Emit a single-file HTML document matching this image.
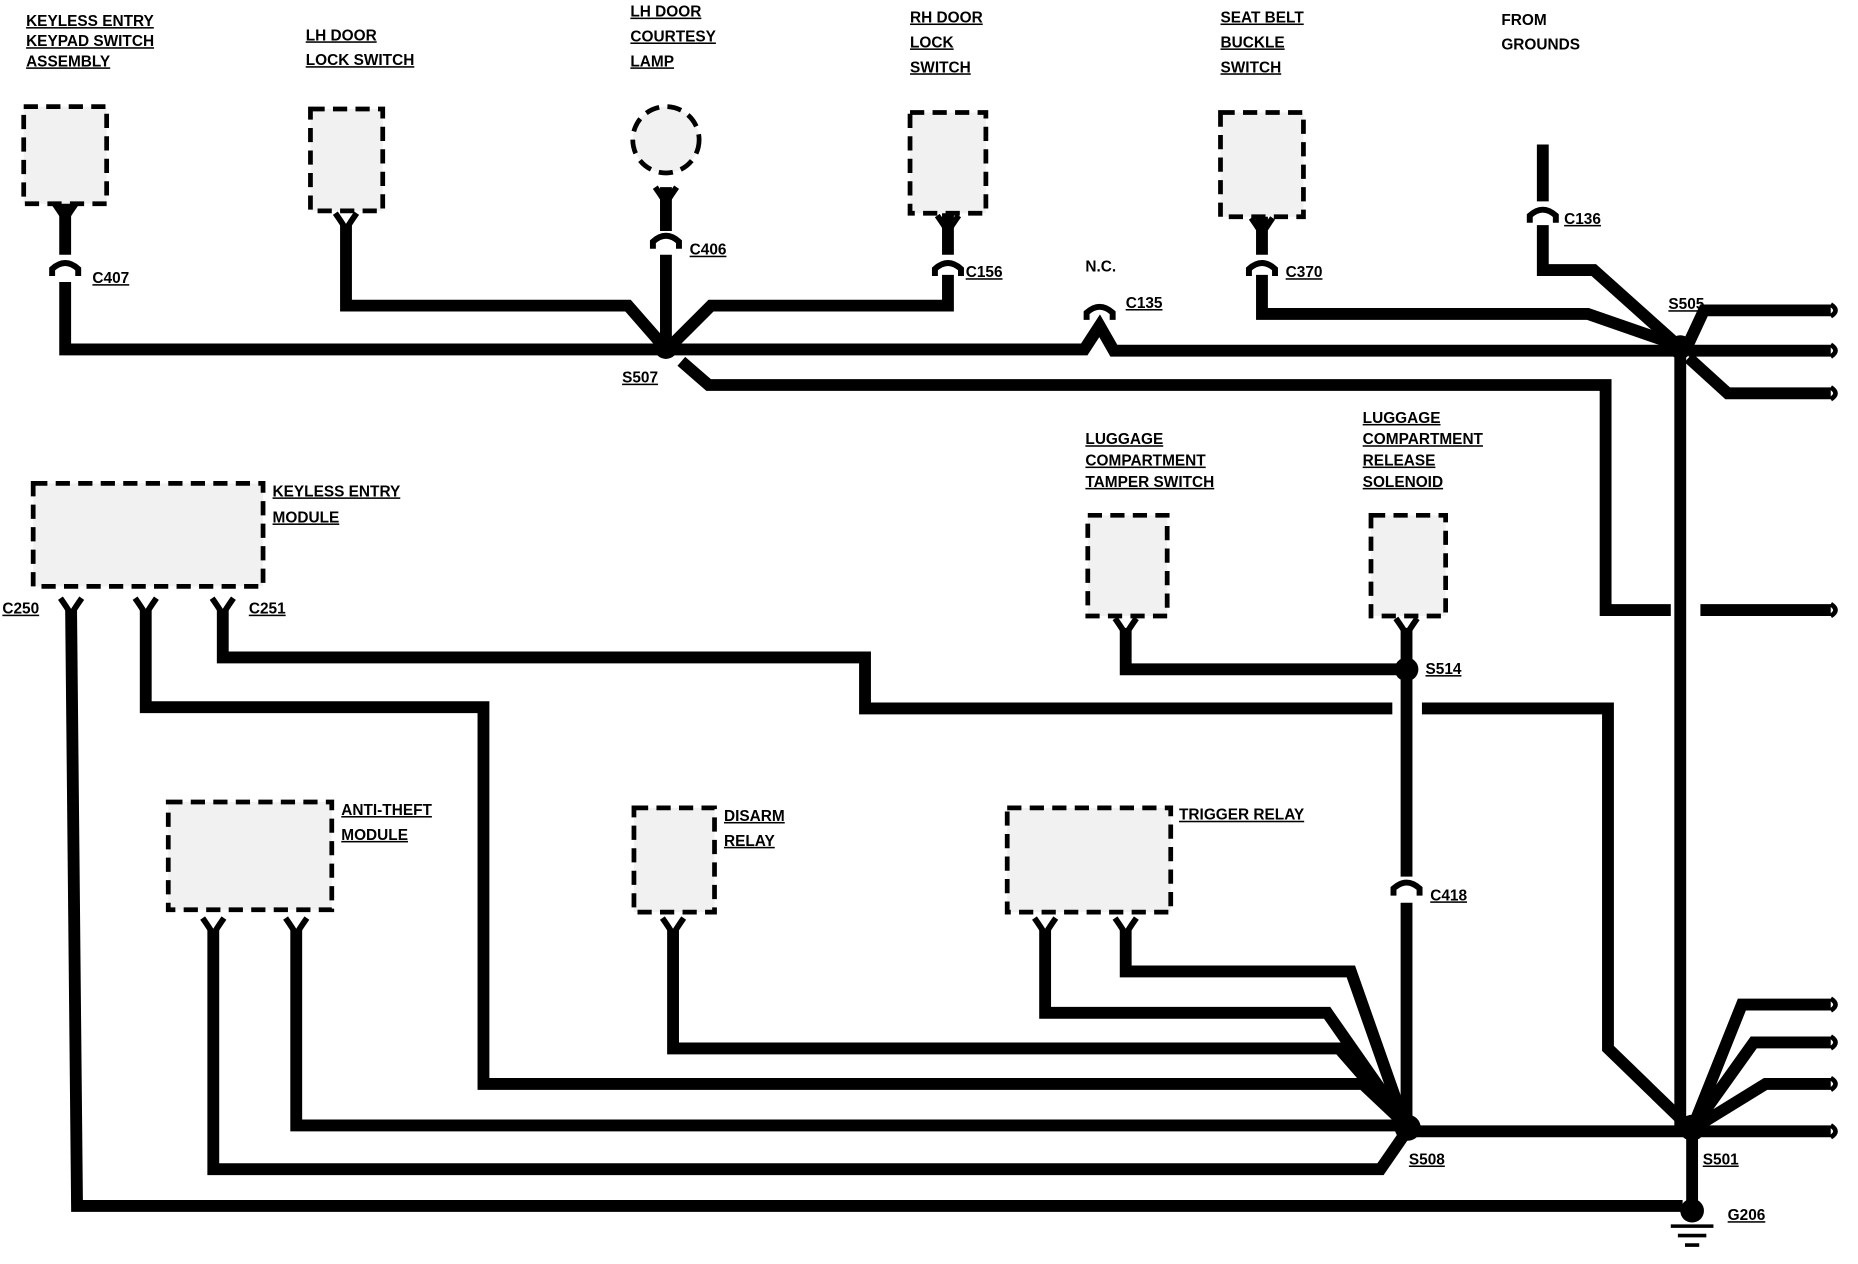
<!DOCTYPE html>
<html><head><meta charset="utf-8"><style>
html,body{margin:0;padding:0;background:#fff;}
svg{display:block}
text{font-family:"Liberation Sans",sans-serif;font-size:13px;font-weight:bold;fill:#000;text-decoration:underline}
.w{fill:none;stroke:#000;stroke-width:10;stroke-linejoin:miter}
.b{fill:#f1f1f1;stroke:#000;stroke-width:4;stroke-dasharray:12 7}
.f{fill:none;stroke:#000;stroke-width:5}
</style></head><body>
<svg width="1858" height="1264" viewBox="0 0 1568 1067" preserveAspectRatio="none">
<defs>
<g id="fork"><path class="f" d="M-9,-10 Q-2,0 0,4 Q2,0 9,-10"/></g>
<g id="conn"><path d="M-11,8 L-11,2 Q0,-8 11,2 L11,8" fill="none" stroke="#000" stroke-width="5"/></g>
</defs>
<!-- boxes -->
<rect class="b" x="20" y="90" width="70" height="82"/>
<rect class="b" x="262" y="92" width="61" height="86"/>
<circle class="b" cx="562" cy="118" r="28"/>
<rect class="b" x="768" y="95" width="64" height="85"/>
<rect class="b" x="1030" y="95" width="70" height="88"/>
<rect class="b" x="28" y="408" width="194" height="87"/>
<rect class="b" x="918" y="435" width="67" height="85"/>
<rect class="b" x="1157" y="435" width="63" height="85"/>
<rect class="b" x="142" y="677" width="138" height="91"/>
<rect class="b" x="535" y="682" width="68" height="88"/>
<rect class="b" x="850" y="682" width="138" height="88"/>
<!-- wires top -->
<path class="w" d="M55,172 V215 M55,238 V295 H915 L928,275 L940,296 H1412"/>
<path class="w" d="M292,190 V258 H530 L558,290"/>
<path class="w" d="M562,158 V195 M562,215 V290"/>
<path class="w" d="M800,180 V215 M800,232 V258 H600 L568,290"/>
<path class="w" d="M575,305 L598,325 H1355 V515 H1410 M1435,515 H1545"/>
<path class="w" d="M1065,183 V215 M1065,232 V265 H1340 L1412,290"/>
<path class="w" d="M1302,122 V170 M1302,190 V228 H1345 L1412,288"/>
<path class="w" d="M1425,290 L1438,262 H1545 M1425,296 H1545 M1425,302 L1458,332 H1545"/>
<path class="w" d="M1418,293 V952"/>
<!-- middle -->
<path class="w" d="M60,515 L65,1018 H1420"/>
<path class="w" d="M123,515 V597 H408 V915 H1150 L1185,948"/>
<path class="w" d="M188,515 V555 H730 V598 H1175 M1200,598 H1357 V885 L1422,948"/>
<path class="w" d="M950,530 V565 H1187"/>
<path class="w" d="M1187,530 V740 M1187,762 V952"/>
<path class="w" d="M180,785 V987 H1165 L1185,958"/>
<path class="w" d="M250,785 V950 H1180"/>
<path class="w" d="M568,785 V885 H1130 L1185,948"/>
<path class="w" d="M882,785 V855 H1120 L1185,948"/>
<path class="w" d="M950,785 V820 H1140 L1185,948"/>
<path class="w" d="M1188,955 H1425"/>
<path class="w" d="M1430,948 L1470,848 H1545 M1430,950 L1480,880 H1545 M1430,952 L1490,915 H1545 M1430,955 H1545"/>
<path class="w" d="M1428,952 V1025"/>
<!-- squiggle ends -->
<g fill="none" stroke="#000" stroke-width="4">
<path d="M1545,257 q8,5 0,10 M1545,291 q8,5 0,10 M1545,327 q8,5 0,10 M1545,510 q8,5 0,10 M1545,843 q8,5 0,10 M1545,875 q8,5 0,10 M1545,910 q8,5 0,10 M1545,950 q8,5 0,10"/>
</g>
<!-- ground -->
<circle cx="1428" cy="1022" r="10"/>
<path d="M1410,1035 H1446 M1416,1043 H1440 M1422,1051 H1434" stroke="#000" stroke-width="3"/>
<!-- splices -->
<circle cx="562" cy="293" r="10"/><circle cx="1418" cy="293" r="10"/>
<circle cx="1187" cy="565" r="10"/><circle cx="1188" cy="952" r="11"/><circle cx="1428" cy="952" r="11"/>
<!-- forks -->
<use href="#fork" x="55" y="182"/><use href="#fork" x="292" y="190"/><use href="#fork" x="562" y="168"/><use href="#fork" x="800" y="192"/><use href="#fork" x="1065" y="194"/>
<use href="#fork" x="60" y="515"/><use href="#fork" x="123" y="515"/><use href="#fork" x="188" y="515"/>
<use href="#fork" x="950" y="532"/><use href="#fork" x="1187" y="532"/>
<use href="#fork" x="180" y="785"/><use href="#fork" x="250" y="785"/><use href="#fork" x="568" y="785"/><use href="#fork" x="882" y="785"/><use href="#fork" x="950" y="785"/>
<!-- connectors -->
<use href="#conn" x="55" y="225"/><use href="#conn" x="562" y="202"/><use href="#conn" x="800" y="225"/><use href="#conn" x="928" y="262"/><use href="#conn" x="1065" y="225"/><use href="#conn" x="1302" y="180"/><use href="#conn" x="1187" y="748"/>
<!-- labels -->
<text x="22" y="22">KEYLESS ENTRY</text><text x="22" y="39">KEYPAD SWITCH</text><text x="22" y="56">ASSEMBLY</text>
<text x="258" y="34">LH DOOR</text><text x="258" y="55">LOCK SWITCH</text>
<text x="532" y="14">LH DOOR</text><text x="532" y="35">COURTESY</text><text x="532" y="56">LAMP</text>
<text x="768" y="19">RH DOOR</text><text x="768" y="40">LOCK</text><text x="768" y="61">SWITCH</text>
<text x="1030" y="19">SEAT BELT</text><text x="1030" y="40">BUCKLE</text><text x="1030" y="61">SWITCH</text>
<text x="1267" y="21" style="text-decoration:none">FROM</text><text x="1267" y="42" style="text-decoration:none">GROUNDS</text>
<text x="78" y="239">C407</text><text x="582" y="215">C406</text><text x="815" y="234">C156</text>
<text x="916" y="229" style="text-decoration:none">N.C.</text><text x="950" y="260">C135</text>
<text x="1085" y="234">C370</text><text x="1320" y="189">C136</text><text x="1408" y="261">S505</text>
<text x="525" y="323">S507</text>
<text x="230" y="419">KEYLESS ENTRY</text><text x="230" y="441">MODULE</text>
<text x="2" y="518">C250</text><text x="210" y="518">C251</text>
<text x="916" y="375">LUGGAGE</text><text x="916" y="393">COMPARTMENT</text><text x="916" y="411">TAMPER SWITCH</text>
<text x="1150" y="357">LUGGAGE</text><text x="1150" y="375">COMPARTMENT</text><text x="1150" y="393">RELEASE</text><text x="1150" y="411">SOLENOID</text>
<text x="1203" y="569">S514</text>
<text x="288" y="688">ANTI-THEFT</text><text x="288" y="709">MODULE</text>
<text x="611" y="693">DISARM</text><text x="611" y="714">RELAY</text>
<text x="995" y="692">TRIGGER RELAY</text>
<text x="1207" y="760">C418</text>
<text x="1189" y="983">S508</text><text x="1437" y="983">S501</text><text x="1458" y="1030">G206</text>
</svg>
</body></html>
